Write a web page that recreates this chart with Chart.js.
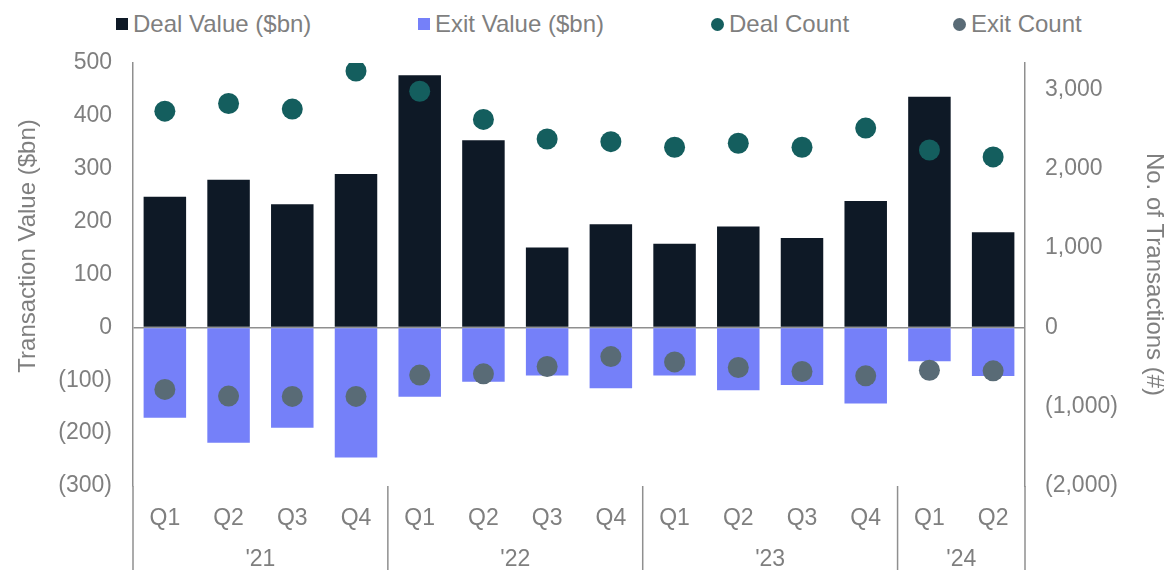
<!DOCTYPE html>
<html>
<head>
<meta charset="utf-8">
<script src="https://cdn.jsdelivr.net/npm/chart.js@4.4.1/dist/chart.umd.min.js"></script>
<style>
  body { margin: 0; background: #fff; }
  #wrap { position: relative; width: 1168px; height: 570px; }
  #legend { position: absolute; top: 0; left: 0; width: 1168px; height: 50px;
            font-family: "Liberation Sans", Arial, sans-serif; font-size: 24px; color: #7f7f7f; }
  .item { position: absolute; top: 12px; height: 24px; line-height: 24px; display: flex; align-items: center; white-space: nowrap; }
  .swatch { width: 12px; height: 12px; margin-right: 5px; }
  .swatch.dot { width: 13px; height: 13px; border-radius: 50%; }
  canvas { position: absolute; top: 0; left: 0; }
</style>
</head>
<body>
<div id="wrap">
  <div id="legend"></div>
  <canvas id="chart" width="1168" height="570"></canvas>
</div>
<script>
const quarters = ['Q1','Q2','Q3','Q4','Q1','Q2','Q3','Q4','Q1','Q2','Q3','Q4','Q1','Q2'];
const years = ["'21", "'22", "'23", "'24"];
const yearStarts = [0, 4, 8, 12];

const dealValue = [247, 279, 233, 290, 477, 354, 151, 195, 158, 191, 169, 239, 436, 180];
const exitValue = [-171, -218, -190, -246, -131, -103, -91, -115, -91, -119, -109, -144, -64, -92];
const dealCount = [2726, 2823, 2752, 3233, 2977, 2622, 2375, 2342, 2271, 2321, 2271, 2513, 2237, 2149];
const exitCount = [-782, -866, -870, -870, -602, -586, -493, -368, -435, -506, -556, -611, -540, -548];

const countTicks = [-2000, -1000, 0, 1000, 2000, 3000];

const textGrey = '#7f7f7f';
const axisGrey = '#8f8f8f';
const fontFamily = '"Liberation Sans", Arial, sans-serif';
const tickFont = { family: fontFamily, size: 23 };
const titleFont = { family: fontFamily, size: 24 };

const fmt = v => v < 0 ? '(' + Math.abs(v).toLocaleString('en-US') + ')' : v.toLocaleString('en-US');

// centre of each year group, in quarter units
const yearCentres = yearStarts.map((s, i) => {
    const end = i < yearStarts.length - 1 ? yearStarts[i + 1] : quarters.length;
    return (s + end) / 2;
});

// year separators below the axis + left title (sits a bit above centre in the original)
const extras = {
    id: 'extras',
    afterDraw(chart) {
        const { ctx, chartArea, scales: { x } } = chart;
        const edges = yearStarts.slice(1).map(i => x.getPixelForValue(i - 0.5));
        ctx.save();
        ctx.strokeStyle = axisGrey;
        ctx.lineWidth = 1.5;
        [chartArea.left, ...edges, chartArea.right].forEach(px => {
            ctx.beginPath();
            ctx.moveTo(px, chartArea.bottom);
            ctx.lineTo(px, chart.height);
            ctx.stroke();
        });

        ctx.translate(28, 246);
        ctx.rotate(-Math.PI / 2);
        ctx.fillStyle = textGrey;
        ctx.font = `${titleFont.size}px ${fontFamily}`;
        ctx.textAlign = 'center';
        ctx.textBaseline = 'middle';
        ctx.fillText('Transaction Value ($bn)', 0, 0);
        ctx.restore();
    }
};

const ctx = document.getElementById('chart').getContext('2d');
const chart = new Chart(ctx, {
    data: {
        labels: quarters,
        datasets: [
            { type: 'bar', label: 'Deal Value ($bn)', data: dealValue, backgroundColor: '#0e1926',
              xAxisID: 'x', yAxisID: 'y', order: 2, barPercentage: 0.667, categoryPercentage: 1 },
            { type: 'bar', label: 'Exit Value ($bn)', data: exitValue, backgroundColor: '#7580f9',
              xAxisID: 'x', yAxisID: 'y', order: 2, barPercentage: 0.667, categoryPercentage: 1 },
            { type: 'line', label: 'Deal Count', data: dealCount, showLine: false, xAxisID: 'x', yAxisID: 'y2',
              pointRadius: 10.5, pointBorderWidth: 0, pointBackgroundColor: '#145e5e', order: 1 },
            { type: 'line', label: 'Exit Count', data: exitCount, showLine: false, xAxisID: 'x', yAxisID: 'y2',
              pointRadius: 10.5, pointBorderWidth: 0, pointBackgroundColor: '#596b76', order: 1 }
        ]
    },
    options: {
        responsive: false,
        animation: false,
        layout: { padding: { top: 63, left: 0, right: 0, bottom: 0 } },
        plugins: { legend: { display: false }, tooltip: { enabled: false } },
        scales: {
            x: {
                type: 'category', stacked: true, offset: true, weight: 0,
                grid: { display: false, drawTicks: false },
                border: { display: false },
                ticks: { color: textGrey, font: tickFont, padding: 19, maxRotation: 0, autoSkip: false },
                afterFit: s => { s.height = 44; }
            },
            x2: {
                type: 'linear', position: 'bottom', min: 0, max: quarters.length, weight: 1,
                grid: { display: false, drawTicks: false },
                border: { display: false },
                afterBuildTicks: s => { s.ticks = yearCentres.map(v => ({ value: v })); },
                ticks: { color: textGrey, font: tickFont, padding: 16, maxRotation: 0,
                         callback: (v, i) => years[i] },
                afterFit: s => { s.height = 40; }
            },
            y: {
                position: 'left', stacked: true, min: -300, max: 500,
                grid: { drawTicks: false, lineWidth: 1.5,
                        color: c => c.tick && c.tick.value === 0 ? axisGrey : 'transparent' },
                border: { color: axisGrey, width: 1.5 },
                ticks: { stepSize: 100, color: textGrey, font: tickFont, padding: 21, callback: v => fmt(v) },
                afterFit: s => { s.width = 133; }
            },
            y2: {
                position: 'right', min: -2000, max: 10000 / 3,
                grid: { display: false, drawTicks: false },
                border: { color: axisGrey, width: 1.5 },
                afterBuildTicks: s => { s.ticks = countTicks.map(v => ({ value: v })); },
                ticks: { color: textGrey, font: tickFont, padding: 20, autoSkip: false,
                         callback: (v, i) => fmt(countTicks[i]) },
                title: { display: true, text: 'No. of Transactions (#)', color: textGrey,
                         font: titleFont, padding: { top: 0 } },
                afterFit: s => { s.width = 143; }
            }
        }
    },
    plugins: [extras]
});

// html legend built from the chart's datasets
const legendLeft = [116, 418, 711, 953];
const legend = document.getElementById('legend');
chart.data.datasets.forEach((ds, i) => {
    const item = document.createElement('div');
    item.className = 'item';
    item.style.left = legendLeft[i] + 'px';
    const sw = document.createElement('span');
    sw.className = ds.type === 'line' ? 'swatch dot' : 'swatch';
    sw.style.background = ds.type === 'line' ? ds.pointBackgroundColor : ds.backgroundColor;
    const txt = document.createElement('span');
    txt.textContent = ds.label;
    item.appendChild(sw);
    item.appendChild(txt);
    legend.appendChild(item);
});
</script>
</body>
</html>
